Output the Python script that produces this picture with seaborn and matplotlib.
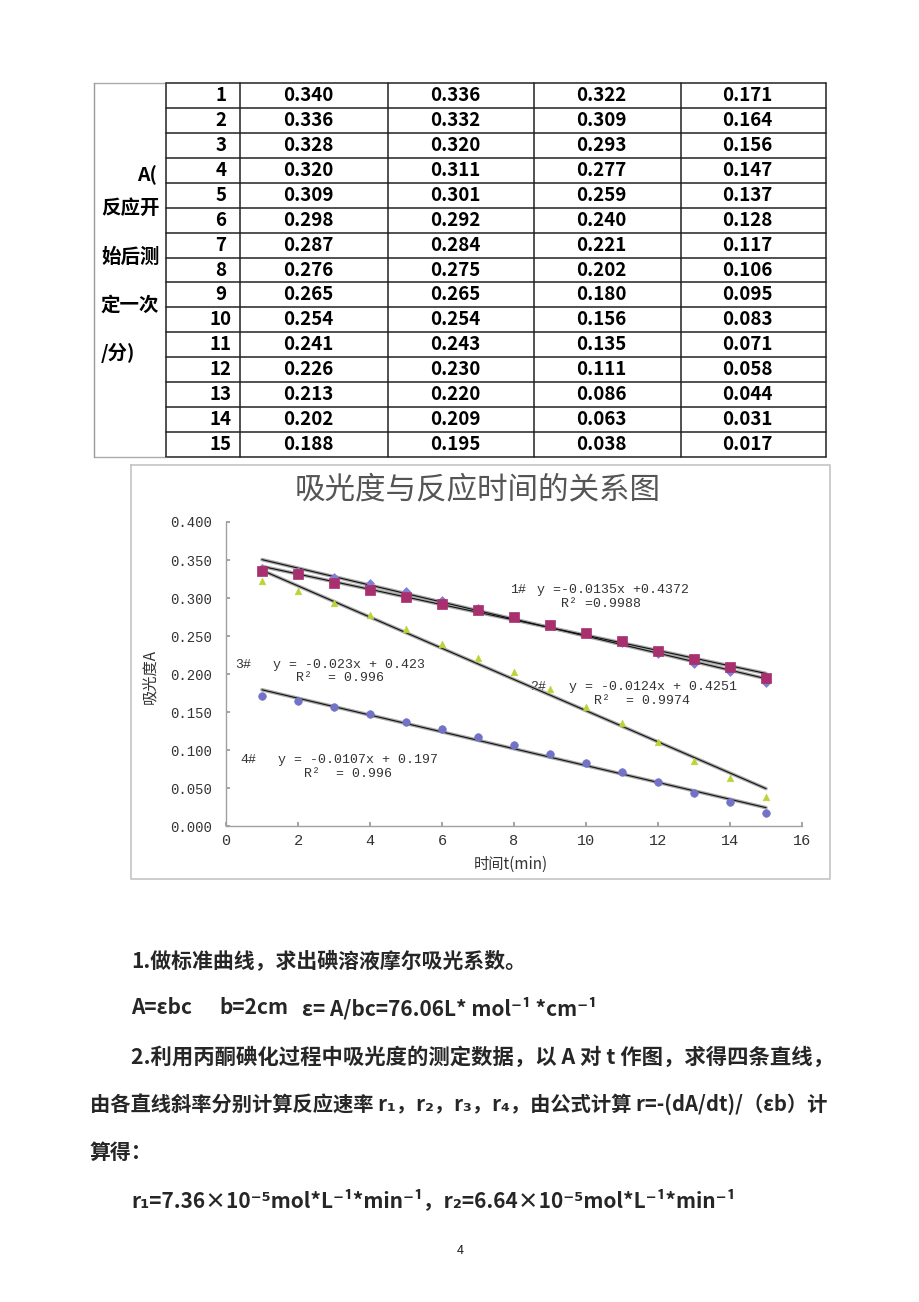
import numpy as np
import pandas as pd
import matplotlib
matplotlib.use("Agg")
import matplotlib.pyplot as plt
import seaborn as sns

# ---------------- data ----------------
t_min = list(range(1, 16))
a_1 = [0.340, 0.336, 0.328, 0.320, 0.309, 0.298, 0.287, 0.276, 0.265, 0.254, 0.241, 0.226, 0.213, 0.202, 0.188]
a_2 = [0.336, 0.332, 0.320, 0.311, 0.301, 0.292, 0.284, 0.275, 0.265, 0.254, 0.243, 0.230, 0.220, 0.209, 0.195]
a_3 = [0.322, 0.309, 0.293, 0.277, 0.259, 0.240, 0.221, 0.202, 0.180, 0.156, 0.135, 0.111, 0.086, 0.063, 0.038]
a_4 = [0.171, 0.164, 0.156, 0.147, 0.137, 0.128, 0.117, 0.106, 0.095, 0.083, 0.071, 0.058, 0.044, 0.031, 0.017]
series_names = ["1#", "2#", "3#", "4#"]
eq_texts = ["y =-0.0135x +0.4372", "y = -0.0124x + 0.4251", "y = -0.023x + 0.423", "y = -0.0107x + 0.197"]
r2_texts = ["R\u00b2 =0.9988", "R\u00b2  = 0.9974", "R\u00b2  = 0.996", "R\u00b2  = 0.996"]
y_ticks = [0.000, 0.050, 0.100, 0.150, 0.200, 0.250, 0.300, 0.350, 0.400]
x_ticks = [0, 2, 4, 6, 8, 10, 12, 14, 16]
left_label = ["A(", "反应开", "始后测", "定一次", "/分)"]
chart_title = "吸光度与反应时间的关系图"
x_label = "时间t(min)"
y_label = "吸光度A"
body_lines = [
    "1.做标准曲线，求出碘溶液摩尔吸光系数。",
    "2.利用丙酮碘化过程中吸光度的测定数据，以 A 对 t 作图，求得四条直线，",
    "由各直线斜率分别计算反应速率 r\u2081，r\u2082，r\u2083，r\u2084，由公式计算 r=-(dA/dt)/（εb）计",
    "算得：",
    "r\u2081=7.36×10\u207b\u2075mol*L\u207b\u00b9*min\u207b\u00b9，r\u2082=6.64×10\u207b\u2075mol*L\u207b\u00b9*min\u207b\u00b9",
]
formula_parts = ["A=εbc", "b=2cm", "ε= A/bc=76.06L* mol\u207b\u00b9 *cm\u207b\u00b9"]

# ---------------- style ----------------
sns.set_theme(style="white")
plt.rcParams["font.family"] = ["Noto Sans CJK SC", "DejaVu Sans"]
BODY = ["Noto Sans CJK SC", "DejaVu Sans"]
CJK = ["Noto Sans CJK SC", "DejaVu Sans"]
MONO = ["Liberation Mono", "DejaVu Sans Mono"]

fig = plt.figure(figsize=(9.2, 13.02), dpi=100)
bg = fig.add_axes([0, 0, 1, 1])
bg.set_xlim(0, 920)
bg.set_ylim(1302, 0)
bg.axis("off")

# ---------------- table ----------------
col_edges = [94, 166, 240, 388, 534, 681, 826]
top, bottom = 83, 457
n_rows = len(t_min)
row_h = (bottom - top) / n_rows
row_edges = [top + i * row_h for i in range(n_rows + 1)]

for y in row_edges:
    bg.plot([col_edges[1], col_edges[-1]], [y, y], color="#222222", lw=1.1)
bg.plot([col_edges[0], col_edges[1]], [top, top], color="#aaaaaa", lw=1)
bg.plot([col_edges[0], col_edges[1]], [bottom, bottom], color="#aaaaaa", lw=1)
bg.plot([col_edges[0], col_edges[0]], [top, bottom], color="#999999", lw=1)
for x in col_edges[1:]:
    bg.plot([x, x], [top, bottom], color="#222222", lw=1.1)

cols = [a_1, a_2, a_3, a_4]
for i, t in enumerate(t_min):
    yc = top + (i + 0.5) * row_h
    bg.text(221, yc, str(t), ha="center", va="center", fontsize=13.5,
            fontweight="bold", family=BODY, color="black")
    for j, col in enumerate(cols):
        xc = (col_edges[j + 2] + col_edges[j + 3]) / 2 - 6
        bg.text(xc, yc, f"{col[i]:.3f}", ha="center", va="center", fontsize=13.5,
                fontweight="bold", family=BODY, color="black")

label_y = [175, 208, 257, 305, 353]
for k, (s, yy) in enumerate(zip(left_label, label_y)):
    if k == 0:
        bg.text(157, yy, s, ha="right", va="center", fontsize=14, fontweight="bold",
                family=BODY, color="black")
    else:
        bg.text(101, yy, s, ha="left", va="center", fontsize=14, fontweight="bold",
                family=BODY, color="black")

# ---------------- chart frame ----------------
bg.plot([131, 830, 830, 131, 131], [465, 465, 879, 879, 465], color="#c4c4c4", lw=1.2)
bg.text(478, 490, chart_title, ha="center", va="center", fontsize=22,
        family=CJK, color="#555555")
bg.text(511, 864, x_label, ha="center", va="center", fontsize=11,
        family=CJK, color="#333333")
bg.text(150, 677, y_label, ha="center", va="center", fontsize=11,
        family=CJK, color="#333333", rotation=90)

# ---------------- chart axes ----------------
x0, x1, yb, yt = 226, 802, 826, 522
ax = fig.add_axes([x0 / 920, (1302 - yb) / 1302, (x1 - x0) / 920, (yb - yt) / 1302])
ax.set_facecolor("none")

df = pd.DataFrame({"t": t_min * 4,
                   "A": a_1 + a_2 + a_3 + a_4,
                   "s": sum([[n] * len(t_min) for n in series_names], [])})

for n in series_names:
    d = df[df["s"] == n]
    sns.regplot(data=d, x="t", y="A", ax=ax, scatter=False, ci=None, truncate=True,
                line_kws=dict(color="#a9a9a9", lw=2.6, zorder=2))
    sns.regplot(data=d, x="t", y="A", ax=ax, scatter=False, ci=None, truncate=True,
                line_kws=dict(color="#111111", lw=0.8, zorder=3))

marker_map = {"1#": "D", "2#": "s", "3#": "^", "4#": "o"}
color_map = {"1#": "#7f7fd6", "2#": "#a8306e", "3#": "#bcd438", "4#": "#7272c8"}
size_map = {"1#": 16, "2#": 42, "3#": 22, "4#": 30}
for n in series_names:
    d = df[df["s"] == n]
    sns.scatterplot(data=d, x="t", y="A", ax=ax, marker=marker_map[n],
                    color=color_map[n], s=size_map[n], edgecolor=color_map[n],
                    linewidth=0.5, zorder=4, legend=False)

ax.set_xlim(0, 16)
ax.set_ylim(0, 0.4)
ax.set_xticks(x_ticks)
ax.set_yticks(y_ticks)
ax.set_xticklabels([str(v) for v in x_ticks], family=MONO, fontsize=11, color="#333333")
ax.set_yticklabels([f"{v:.3f}" for v in y_ticks], family=MONO, fontsize=10, color="#333333")
ax.tick_params(axis="x", direction="in", length=3, color="#999999", pad=6, bottom=True)
ax.tick_params(axis="y", direction="in", length=3, color="#999999", pad=10, left=True)
ax.set_xlabel("")
ax.set_ylabel("")
for side in ["top", "right"]:
    ax.spines[side].set_visible(False)
for side in ["left", "bottom"]:
    ax.spines[side].set_color("#a0a0a0")
    ax.spines[side].set_linewidth(1)

# annotations (pixel positions on page)
ann = {
    "1#": ((510, 590), (537, 590), (561, 604)),
    "2#": ((530, 687), (569, 687), (594, 701)),
    "3#": ((235, 665), (273, 665), (296, 678)),
    "4#": ((240, 760), (278, 760), (304, 774)),
}
for k, n in enumerate(series_names):
    (lx, ly), (ex, ey), (rx, ry) = ann[n]
    bg.text(lx, ly, n, ha="left", va="center", fontsize=9.5, family=MONO, color="#333333")
    bg.text(ex, ey, eq_texts[k], ha="left", va="center", fontsize=9.5, family=MONO, color="#333333")
    bg.text(rx, ry, r2_texts[k], ha="left", va="center", fontsize=9.5, family=MONO, color="#333333")

# ---------------- body text ----------------
bg.text(131, 962, body_lines[0], ha="left", va="center", fontsize=15, fontweight="bold", family=BODY)
for s, xx in zip(formula_parts, [131, 219, 302]):
    bg.text(xx, 1008, s, ha="left", va="center", fontsize=15, fontweight="bold", family=BODY)
bg.text(131, 1057, body_lines[1], ha="left", va="center", fontsize=15.4, fontweight="bold", family=BODY)
bg.text(90, 1104, body_lines[2], ha="left", va="center", fontsize=14.6, fontweight="bold", family=BODY)
bg.text(90, 1152, body_lines[3], ha="left", va="center", fontsize=15, fontweight="bold", family=BODY)
bg.text(131, 1200, body_lines[4], ha="left", va="center", fontsize=15, fontweight="bold", family=BODY)

bg.text(460, 1250, "4", ha="center", va="center", fontsize=9, family=BODY, color="#222222")

fig.savefig("out.png", dpi=100)
